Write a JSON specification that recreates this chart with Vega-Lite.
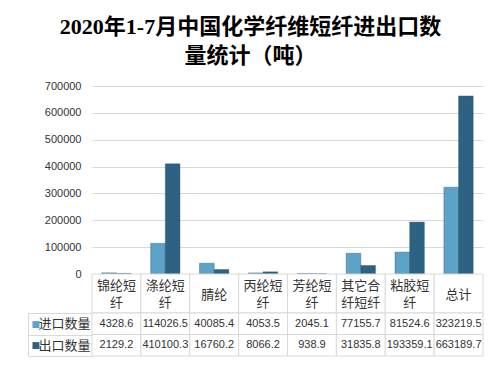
{
  "$schema": "https://vega.github.io/schema/vega-lite/v6.json",
  "padding": {"left": 27, "top": 16, "right": 5, "bottom": 5},
  "background": "white",
  "config": {"view": {"stroke": null}},
  "title": {
    "text": ["2020年1-7月中国化学纤维短纤进出口数", "量统计（吨）"],
    "font": "Liberation Serif, Noto Sans CJK SC",
    "fontSize": 22,
    "fontWeight": "bold",
    "lineHeight": 29,
    "color": "#000000",
    "anchor": "middle",
    "dx": -5,
    "offset": 12
  },
  "datasets": {
    "d": [
      {"cat": "锦纶短纤", "head": "锦纶短\n纤", "series": "进口数量", "value": 4328.6},
      {"cat": "涤纶短纤", "head": "涤纶短\n纤", "series": "进口数量", "value": 114026.5},
      {"cat": "腈纶", "head": "腈纶", "series": "进口数量", "value": 40085.4},
      {"cat": "丙纶短纤", "head": "丙纶短\n纤", "series": "进口数量", "value": 4053.5},
      {"cat": "芳纶短纤", "head": "芳纶短\n纤", "series": "进口数量", "value": 2045.1},
      {"cat": "其它合纤短纤", "head": "其它合\n纤短纤", "series": "进口数量", "value": 77155.7},
      {"cat": "粘胶短纤", "head": "粘胶短\n纤", "series": "进口数量", "value": 81524.6},
      {"cat": "总计", "head": "总计", "series": "进口数量", "value": 323219.5},
      {"cat": "锦纶短纤", "head": "锦纶短\n纤", "series": "出口数量", "value": 2129.2},
      {"cat": "涤纶短纤", "head": "涤纶短\n纤", "series": "出口数量", "value": 410100.3},
      {"cat": "腈纶", "head": "腈纶", "series": "出口数量", "value": 16760.2},
      {"cat": "丙纶短纤", "head": "丙纶短\n纤", "series": "出口数量", "value": 8066.2},
      {"cat": "芳纶短纤", "head": "芳纶短\n纤", "series": "出口数量", "value": 938.9},
      {"cat": "其它合纤短纤", "head": "其它合\n纤短纤", "series": "出口数量", "value": 31835.8},
      {"cat": "粘胶短纤", "head": "粘胶短\n纤", "series": "出口数量", "value": 193359.1},
      {"cat": "总计", "head": "总计", "series": "出口数量", "value": 663189.7}
    ]
  },
  "data": {"name": "d"},
  "spacing": 0,
  "bounds": "flush",
  "resolve": {"scale": {"x": "independent", "y": "independent", "color": "independent"}},
  "vconcat": [
    {
      "width": 391,
      "height": 188,
      "mark": {"type": "bar", "stroke": "#234f68", "strokeWidth": 0.6, "strokeOpacity": 0.6},
      "encoding": {
        "x": {"field": "cat", "type": "nominal", "sort": ["锦纶短纤", "涤纶短纤", "腈纶", "丙纶短纤", "芳纶短纤", "其它合纤短纤", "粘胶短纤", "总计"], "scale": {"paddingInner": 0.4, "paddingOuter": 0.2}, "axis": null},
        "xOffset": {"field": "series", "type": "nominal", "sort": ["进口数量", "出口数量"]},
        "y": {
          "field": "value", "type": "quantitative",
          "scale": {"domain": [0, 700000], "nice": false},
          "axis": {"values": [0, 100000, 200000, 300000, 400000, 500000, 600000, 700000], "format": "d", "grid": true, "gridColor": "#d9d9d9", "domain": false, "ticks": false, "labelPadding": 11, "labelFont": "Liberation Sans", "labelFontSize": 11, "labelColor": "#333333", "title": null}
        },
        "color": {"field": "series", "type": "nominal", "scale": {"domain": ["进口数量", "出口数量"], "range": ["#5ca3c7", "#2e6283"]}, "legend": null}
      }
    },
    {
      "width": 391,
      "height": 39,
      "transform": [{"filter": "datum.series === '进口数量'"}],
      "layer": [
        {
          "mark": {"type": "rect", "fill": "white", "stroke": "#d9d9d9", "strokeWidth": 1},
          "encoding": {
            "x": {"field": "cat", "type": "nominal", "sort": ["锦纶短纤", "涤纶短纤", "腈纶", "丙纶短纤", "芳纶短纤", "其它合纤短纤", "粘胶短纤", "总计"], "scale": {"padding": 0}, "axis": null}
          }
        },
        {
          "transform": [{"filter": "indexof(datum.head, '\\n') >= 0"}],
          "mark": {"type": "text", "lineBreak": "\n", "font": "Noto Sans CJK SC", "fontSize": 13, "lineHeight": 17, "baseline": "middle", "align": "center", "dy": -8, "color": "#333333"},
          "encoding": {
            "x": {"field": "cat", "type": "nominal", "sort": ["锦纶短纤", "涤纶短纤", "腈纶", "丙纶短纤", "芳纶短纤", "其它合纤短纤", "粘胶短纤", "总计"], "scale": {"padding": 0}, "axis": null},
            "text": {"field": "head"}
          }
        },
        {
          "transform": [{"filter": "indexof(datum.head, '\\n') < 0"}],
          "mark": {"type": "text", "font": "Noto Sans CJK SC", "fontSize": 13, "baseline": "middle", "align": "center", "dy": 1, "color": "#333333"},
          "encoding": {
            "x": {"field": "cat", "type": "nominal", "sort": ["锦纶短纤", "涤纶短纤", "腈纶", "丙纶短纤", "芳纶短纤", "其它合纤短纤", "粘胶短纤", "总计"], "scale": {"padding": 0}, "axis": null},
            "text": {"field": "head"}
          }
        }
      ]
    },
    {
      "width": 391,
      "height": 43,
      "resolve": {"scale": {"y": "independent"}},
      "layer": [
        {
          "layer": [
            {
              "mark": {"type": "rect", "fill": "white", "stroke": "#d9d9d9", "strokeWidth": 1},
              "encoding": {
                "x": {"field": "cat", "type": "nominal", "sort": ["锦纶短纤", "涤纶短纤", "腈纶", "丙纶短纤", "芳纶短纤", "其它合纤短纤", "粘胶短纤", "总计"], "scale": {"padding": 0}, "axis": null},
                "y": {"field": "series", "type": "nominal", "sort": ["进口数量", "出口数量"], "scale": {"type": "band", "padding": 0},
                  "axis": {"title": null, "domain": false, "ticks": true, "tickBand": "extent", "tickSize": 64, "tickColor": "#d9d9d9", "tickWidth": 1, "labelPadding": -62, "labelFont": "Noto Sans CJK SC", "labelFontSize": 13, "labelColor": "#333333", "grid": false}}
              }
            },
            {
              "mark": {"type": "text", "font": "Liberation Sans", "fontSize": 11, "baseline": "middle", "align": "center", "color": "#333333"},
              "encoding": {
                "x": {"field": "cat", "type": "nominal", "sort": ["锦纶短纤", "涤纶短纤", "腈纶", "丙纶短纤", "芳纶短纤", "其它合纤短纤", "粘胶短纤", "总计"], "scale": {"padding": 0}, "axis": null},
                "y": {"field": "series", "type": "nominal", "sort": ["进口数量", "出口数量"], "scale": {"type": "band", "padding": 0}},
                "text": {"field": "value", "type": "quantitative", "format": ".1f"}
              }
            }
          ]
        },
        {
          "mark": {"type": "rect", "opacity": 0},
          "encoding": {
            "x": {"field": "cat", "type": "nominal", "sort": ["锦纶短纤", "涤纶短纤", "腈纶", "丙纶短纤", "芳纶短纤", "其它合纤短纤", "粘胶短纤", "总计"], "scale": {"padding": 0}, "axis": null},
            "y": {"field": "series", "type": "nominal", "sort": ["进口数量", "出口数量"], "scale": {"type": "band", "padding": 0},
              "axis": {"orient": "left", "offset": 64, "title": null, "ticks": false, "domain": true, "domainColor": "#d9d9d9", "labelAlign": "left", "labelPadding": -3, "labelExpr": "'■'", "labelFont": "DejaVu Sans", "labelFontSize": 9, "labelColor": {"condition": {"test": "datum.value === '进口数量'", "value": "#5ca3c7"}, "value": "#2e6283"}, "grid": false}}
          }
        }
      ]
    }
  ]
}
